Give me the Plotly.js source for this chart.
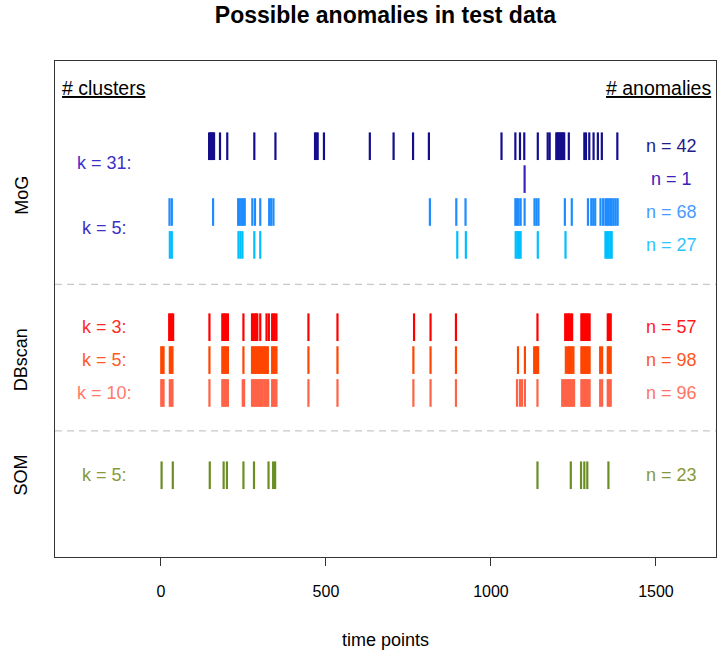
<!DOCTYPE html>
<html>
<head>
<meta charset="utf-8">
<script src="https://cdn.plot.ly/plotly-3.0.1.min.js"></script>
<style>html,body{margin:0;padding:0;background:#fff;}#chart{width:717px;height:655px;}</style>
</head>
<body>
<div id="chart"></div>
<script>
// ---- data: anomaly time points per method / setting ----
const mog31 = [146,149,152,155,158,161,179,201,283,347,467,471,475,494,633,705,764,812,
  1032,1074,1088,1101,1142,1172,1178,1198,1201,1204,1207,1210,1213,1216,1219,1222,1236,
  1283,1288,1298,1311,1324,1336,1383];
const mog31b = [1102];
const mog5a = [26,33,158,234,239,244,249,254,277,285,301,328,334,341,
  815,895,923,1074,1079,1084,1090,1102,1132,1138,1144,1224,1245,1294,
  1304,1310,1316,1332,1340,1347,1352,1357,1362,1366,1372,1378,1384];
const mog5b = [27,33,235,241,247,283,301,898,924,1075,1080,1085,1090,1142,1226,
  1347,1352,1357,1362,1366];
const db3 = [25,29,33,37,147,186,190,194,198,203,250,276,280,284,288,292,301,320,327,337,341,345,350,
  447,535,767,817,894,1141,1225,1229,1233,1237,1241,1246,1274,1278,1282,1286,1290,1294,1299,
  1354,1358,1363];
const db5 = [1,4,8,27,31,35,147,186,190,194,198,203,250,276,280,284,288,292,296,300,304,308,312,316,320,324,
  337,341,345,350,447,535,765,817,894,1082,1103,1131,1135,1139,1143,1227,1233,1237,1241,1245,1250,
  1274,1278,1282,1286,1290,1294,1299,1331,1337,1354,1358,1363];
const db10 = [1,4,8,27,31,35,147,186,190,194,198,203,248,252,276,280,284,288,292,296,300,304,308,
  313,317,321,325,337,341,345,350,447,535,765,817,894,1079,1088,1094,1103,1141,
  1216,1220,1224,1228,1232,1236,1240,1244,1248,1252,1274,1278,1282,1286,1290,1294,1299,1331,1337,1354,1358,1363];
const som5 = [2,36,148,190,200,250,282,326,340,346,1141,1242,1273,1283,1292,1356];

const seriesData = [mog31, mog31b, mog5a, mog5b, db3, db5, db10, som5];
const nCounts = [42, 1, 68, 27, 57, 98, 96, 23];
const kLabels = ["k = 31:", "k = 5:", "k = 3:", "k = 5:", "k = 10:", "k = 5:"];
const methodLabels = ["MoG", "DBscan", "SOM"];
const xTicks = [0, 500, 1000, 1500];

// ---- styling / positions ----
const rowY = [11, 10, 9, 8, 5.5, 4.5, 3.5, 1];
const barColors = ["#140e8c", "#3a22c2", "#1e8cff", "#00bfff", "#ff0000", "#ff4500", "#ff6347", "#6b8e23"];
const nColors = ["#231c8c", "#3a22c2", "#4a9bff", "#2ec3ff", "#ff1a1a", "#ff5522", "#ff7463", "#86993a"];
const kColors = ["#3b30c8", "#3b30c8", "#ff2a2a", "#ff5a2a", "#ff7a6a", "#869a3a"];
const kY = [10.5, 8.5, 5.5, 4.5, 3.5, 1];
const methodY = [9.5, 4.5, 1];
const HALF = 0.42;
const FONT = "Liberation Sans, Arial, sans-serif";

const traces = seriesData.map((pts, i) => {
  const xs = [], ys = [];
  pts.forEach(t => { xs.push(t, t, null); ys.push(rowY[i] - HALF, rowY[i] + HALF, null); });
  return {x: xs, y: ys, type: 'scatter', mode: 'lines', hoverinfo: 'skip',
    line: {color: barColors[i], width: 2.2}, showlegend: false};
});

const ann = [];
kLabels.forEach((t, i) => ann.push({x: -170, y: kY[i], xref: 'x', yref: 'y', text: t, showarrow: false,
  xanchor: 'center', yanchor: 'middle', font: {family: FONT, size: 18, color: kColors[i]}}));
nCounts.forEach((n, i) => ann.push({x: 1548, y: rowY[i], xref: 'x', yref: 'y', text: 'n = ' + n, showarrow: false,
  xanchor: 'center', yanchor: 'middle', font: {family: FONT, size: 18, color: nColors[i]}}));
methodLabels.forEach((t, i) => ann.push({x: -0.051, y: methodY[i], xref: 'paper', yref: 'y', text: t, textangle: -90,
  showarrow: false, xanchor: 'center', yanchor: 'middle', font: {family: FONT, size: 18, color: '#000'}}));
ann.push({x: -306, y: 12.77, xref: 'x', yref: 'y', text: '<u># clusters</u>', showarrow: false, xanchor: 'left',
  yanchor: 'middle', font: {family: FONT, size: 19.5, color: '#000'}});
ann.push({x: 1673, y: 12.77, xref: 'x', yref: 'y', text: '<u># anomalies</u>', showarrow: false, xanchor: 'right',
  yanchor: 'middle', font: {family: FONT, size: 19.5, color: '#000'}});

const shapes = [6.8, 2.35].map(y => ({type: 'line', xref: 'paper', x0: 0, x1: 1, yref: 'y', y0: y, y1: y,
  line: {color: '#c8c8c8', width: 1.2, dash: '7px,5px'}}));

const layout = {
  width: 717, height: 655,
  margin: {l: 55, r: 1, t: 61, b: 98},
  paper_bgcolor: '#fff', plot_bgcolor: '#fff',
  font: {family: FONT, color: '#000'},
  title: {text: '<b>Possible anomalies in test data</b>', font: {family: FONT, size: 23, color: '#000'},
    x: 0.5, xref: 'paper', xanchor: 'center', y: 1 - 15 / 655, yref: 'container', yanchor: 'middle'},
  xaxis: {range: [-321, 1682], tickvals: xTicks, ticktext: xTicks.map(String), showgrid: false, zeroline: false,
    showline: true, mirror: true, linecolor: '#333', linewidth: 1, ticks: 'outside', ticklen: 8, tickcolor: '#333',
    tickfont: {family: FONT, size: 16, color: '#000'}, ticklabelstandoff: 12,
    title: {text: 'time points', font: {family: FONT, size: 18, color: '#000'}, standoff: 34}},
  yaxis: {range: [-1.485, 13.59], showgrid: false, zeroline: false, showticklabels: false, ticks: '',
    showline: true, mirror: true, linecolor: '#333', linewidth: 1},
  annotations: ann,
  shapes: shapes
};

Plotly.newPlot('chart', traces, layout, {staticPlot: true, displayModeBar: false});
</script>
</body>
</html>
